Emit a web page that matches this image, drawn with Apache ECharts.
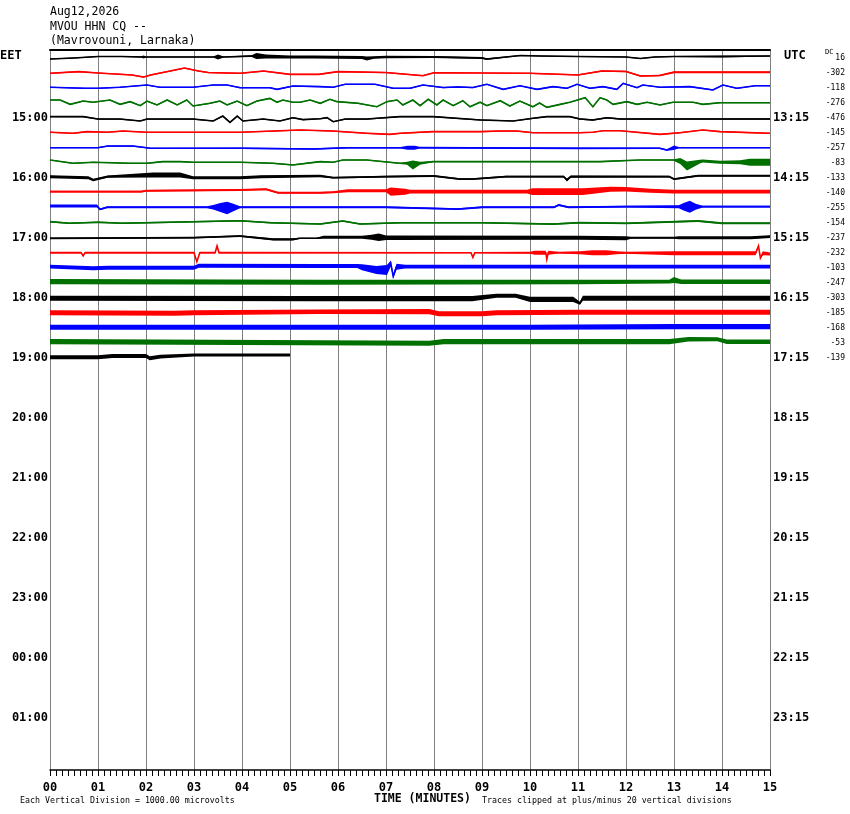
<!DOCTYPE html>
<html style="height: 100%">
<head>
<meta charset="utf-8">
</head>
<body style="height: 100%; margin: 0">
<div id="container" style="width: 850px; height: 814px"></div>
<script type="text/javascript" src="https://cdn.jsdelivr.net/npm/echarts@6/dist/echarts.min.js"></script>
<script type="text/javascript">
// One trace per 15-minute line, named by its EET start time.
// Each knot: [minute, signal in microvolts (up = positive), noise half-width in microvolts]
var r1400 = [[0,-70,30],[0.5,0,30],[1,100,30],[1.5,100,30],[1.9,70,40],[1.95,60,100],[2,70,30],[2.5,70,30],[3.4,70,30],[3.5,70,170],[3.62,70,30],[4.2,130,60],[4.3,130,200],[4.5,100,130],[5,70,100],[5.5,70,100],[6.5,30,100],[6.6,-30,130],[6.75,30,80],[7,70,80],[8,70,70],[9,0,70],[9.1,-70,60],[9.8,170,30],[10.2,130,30],[11,100,30],[12,70,30],[12.3,-30,30],[12.6,70,30],[13,100,40],[14,100,60],[15,130,30]];
var r1415 = [[0,-20,40],[0.6,90,40],[1,0,40],[1.7,-130,40],[1.95,-270,40],[2.1,-130,40],[2.5,130,40],[2.8,330,40],[3.1,130,40],[3.3,30,40],[3.96,-20,40],[4.45,130,40],[5,-90,40],[5.6,-90,40],[6,90,40],[7,30,40],[7.77,-180,40],[8,20,40],[9,0,40],[10,-20,40],[11,-130,40],[11.5,130,50],[12,100,50],[12.3,-200,50],[12.7,-170,50],[13,50,60],[14,50,60],[15,50,60]];
var r1430 = [[0,50,40],[0.73,-20,40],[1,-20,40],[1.46,50,40],[2.02,200,40],[2.29,50,40],[2.98,50,40],[3.4,200,40],[3.69,200,40],[3.96,20,40],[4.58,20,40],[4.73,-90,40],[5.06,130,40],[5.63,90,40],[5.9,50,40],[6.15,250,40],[6.77,250,40],[7.15,-20,40],[7.5,-20,40],[7.77,200,40],[8.19,30,40],[8.5,70,40],[8.81,30,40],[9.1,250,40],[9.44,-90,40],[9.79,150,40],[10.15,-90,40],[10.48,90,40],[10.77,-20,40],[10.98,250,40],[11.25,-20,40],[11.52,90,40],[11.81,-90,40],[11.94,310,40],[12.23,20,40],[12.35,200,40],[12.71,50,40],[13.33,90,40],[13.81,-130,40],[14.02,200,40],[14.31,-20,40],[14.69,150,40],[15,150,40]];
var r1445 = [[0,200,40],[0.21,200,40],[0.42,-90,40],[0.69,130,40],[0.9,50,40],[1.25,200,40],[1.46,-90,40],[1.67,90,40],[1.88,-180,40],[2.02,130,40],[2.23,-130,40],[2.44,200,40],[2.65,-130,40],[2.85,200,40],[2.98,-200,40],[3.33,-20,40],[3.54,130,40],[3.69,-130,40],[3.9,130,40],[4.1,-180,40],[4.31,130,40],[4.58,310,40],[4.73,50,40],[4.85,200,40],[5.06,50,40],[5.21,50,40],[5.42,200,40],[5.63,-20,40],[5.83,250,40],[5.98,90,40],[6.42,-20,40],[6.81,-250,40],[7.02,90,40],[7.23,200,40],[7.35,-130,40],[7.56,200,40],[7.71,-180,40],[7.88,250,40],[8.06,-130,40],[8.19,200,40],[8.4,-180,40],[8.6,150,40],[8.75,-250,40],[8.96,50,40],[9.1,-180,40],[9.38,150,40],[9.58,-200,40],[9.79,130,40],[10.06,-250,40],[10.2,0,40],[10.35,-290,40],[10.63,-90,40],[10.83,50,40],[11.15,350,40],[11.31,-250,40],[11.46,350,40],[11.6,200,40],[11.73,-90,40],[12.02,90,40],[12.23,-90,40],[12.44,50,40],[12.71,-130,40],[12.98,50,40],[13.4,50,40],[13.6,-90,40],[13.96,20,40],[15,20,40]];
var r1500 = [[0,90,40],[0.69,90,40],[1,-70,40],[1.46,-70,40],[1.88,-200,40],[2.02,-70,40],[2.98,-70,40],[3.4,-200,40],[3.6,130,40],[3.75,-290,40],[3.9,130,40],[4.02,-200,40],[4.44,-70,40],[4.79,-200,40],[5.06,20,40],[5.27,-110,40],[5.63,-50,40],[5.77,20,40],[5.9,-250,40],[6.15,-70,40],[6.6,-70,40],[6.81,-20,40],[7.29,90,40],[7.98,90,40],[8.69,-70,40],[8.96,-130,40],[9.65,-200,40],[10.06,-20,40],[10.35,90,40],[10.83,90,40],[11.04,-70,50],[11.31,-130,50],[11.6,20,50],[11.88,-70,50],[12.23,-70,50],[15,-70,50]];
var r1515 = [[0,50,40],[0.48,-20,40],[0.77,90,40],[1.19,50,40],[1.52,130,40],[2.02,50,40],[3.96,50,40],[4.65,130,40],[5.21,200,40],[5.9,130,40],[6.6,-20,40],[7.08,-90,40],[7.29,-20,40],[7.98,90,40],[8.96,90,40],[9.38,130,40],[9.73,130,40],[10.06,20,40],[11.04,20,40],[11.31,50,40],[11.52,150,40],[11.88,150,40],[12.71,-90,40],[13.13,20,40],[13.6,200,40],[13.96,90,40],[15,-20,40]];
var r1530 = [[0,20,40],[1,20,40],[1.2,130,40],[1.73,130,40],[2.1,-20,40],[4,-20,50],[5.5,-70,50],[5.9,-20,50],[6.2,20,50],[7.3,20,50],[7.45,20,130],[7.6,20,130],[7.7,20,60],[11,-20,60],[12.7,-20,50],[12.85,-130,50],[13,20,150],[13.1,20,40],[15,20,40]];
var r1545 = [[0,200,40],[0.48,-20,40],[0.9,50,40],[1.67,-20,40],[2.02,-20,40],[2.35,90,40],[2.71,90,40],[2.98,50,40],[3.96,50,40],[4.65,-20,40],[5.06,-130,40],[5.63,90,40],[5.9,50,40],[6.1,200,40],[6.6,200,40],[7.29,-20,40],[7.44,-20,100],[7.56,-130,300],[7.71,-20,100],[7.98,90,40],[8.96,90,40],[11.46,90,40],[12.29,200,40],[12.98,200,40],[13.13,130,200],[13.27,-200,300],[13.54,90,130],[13.6,130,100],[13.96,50,100],[14.38,50,130],[14.58,50,230],[15,50,230]];
var r1600 = [[0,90,100],[0.8,20,100],[0.9,-130,80],[1.2,90,70],[2.15,200,170],[2.71,200,170],[2.98,20,100],[3.96,20,100],[4.4,90,100],[5.63,130,80],[5.9,20,60],[7,90,60],[8,130,70],[8.54,-70,60],[8.8,-70,60],[9.5,90,60],[10.7,90,60],[10.77,-130,100],[10.85,90,70],[12.9,90,60],[13,-70,60],[13.5,150,60],[15,150,60]];
var r1615 = [[0,90,60],[1.9,90,60],[2,150,70],[3.96,200,70],[4.5,250,70],[4.75,20,70],[5.63,20,70],[5.9,50,60],[6.2,150,100],[7,150,100],[7.1,90,270],[7.4,90,200],[7.5,90,130],[9.94,90,130],[10.05,90,230],[11.1,90,230],[11.67,250,170],[12,250,150],[12.5,150,130],[13,90,130],[15,90,130]];
var r1630 = [[0,130,100],[0.98,130,100],[1.04,-90,60],[1.19,50,60],[3.27,50,60],[3.4,50,150],[3.55,30,300],[3.69,0,420],[3.82,30,250],[3.96,50,70],[7,50,60],[8.5,-70,60],[9,50,60],[10.5,50,60],[10.6,200,70],[10.8,50,60],[12,90,60],[13.1,90,100],[13.2,90,250],[13.33,90,400],[13.45,90,200],[13.6,90,60],[15,90,60]];
var r1645 = [[0,90,50],[0.4,-20,50],[1,50,50],[1.5,-20,50],[2.5,50,50],[3.96,150,50],[4.6,20,50],[5.63,-70,50],[5.9,50,50],[6.1,130,50],[6.46,-70,50],[7.3,20,50],[9,20,50],[10.48,-70,60],[11.04,20,60],[12,-20,60],[13.5,130,70],[14,-20,70],[15,-20,70]];
var r1700 = [[0,-20,60],[2.98,20,60],[3.96,130,60],[4.65,-90,70],[5.06,-90,70],[5.2,-20,40],[5.55,-20,40],[5.7,50,100],[6.5,50,100],[6.7,50,170],[6.85,50,250],[7,20,150],[11,20,130],[12,-20,130],[12.1,20,70],[13,20,70],[13.1,20,100],[14.6,20,100],[15,90,90]];
var r1715 = [[0,20,60],[0.65,20,60],[0.69,-200,40],[0.73,20,60],[3,20,60],[3.06,-580,40],[3.12,20,60],[3.44,20,60],[3.48,470,40],[3.52,20,60],[8.77,20,40],[8.81,-290,40],[8.85,20,40],[10,20,70],[10.1,20,130],[10.33,20,130],[10.35,-420,60],[10.38,20,130],[10.6,20,60],[11.04,20,100],[11.3,20,170],[11.6,20,170],[11.8,20,100],[12,20,70],[13,-20,130],[14.7,-20,130],[14.76,470,70],[14.8,-330,70],[14.85,-20,130],[15,-70,100]];
var r1730 = [[0,90,130],[0.9,-20,130],[1.2,20,130],[3,20,130],[3.1,150,130],[5.63,130,130],[6.4,130,130],[6.5,50,200],[6.8,-130,270],[7.02,-130,330],[7.1,300,200],[7.15,-550,150],[7.22,90,200],[7.4,90,130],[11,90,130],[15,90,130]];
var r1745 = [[0,90,170],[5.63,50,170],[11,70,150],[12.9,90,130],[13,200,200],[13.15,90,150],[15,90,150]];
var r1800 = [[0,-20,170],[5.5,-40,170],[8.8,-40,170],[9.3,150,130],[9.7,150,130],[10,-90,170],[10.9,-90,170],[11.04,-350,100],[11.1,-20,170],[15,-20,170]];
var r1815 = [[0,20,170],[2.6,-20,170],[3,20,170],[5.6,90,150],[7.9,90,170],[8.1,-50,170],[9,-50,170],[9.3,20,170],[11,50,170],[15,50,170]];
var r1830 = [[0,50,170],[5,50,170],[10,50,170],[13,90,170],[15,90,170]];
var r1845 = [[0,90,170],[7.9,-20,170],[8.2,90,170],[12.9,90,170],[13.3,250,150],[13.9,250,130],[14.1,90,150],[15,90,150]];
var r1900 = [[0,50,130],[1,50,130],[1.3,130,130],[2,130,130],[2.08,-20,130],[2.3,90,130],[3,200,100],[5,200,100]];

var traces = [r1400, r1415, r1430, r1445, r1500, r1515, r1530, r1545, r1600, r1615, r1630,
              r1645, r1700, r1715, r1730, r1745, r1800, r1815, r1830, r1845, r1900];

// DC offset printed at the right of each line
var dcOffsets = [16, -302, -118, -276, -476, -145, -257, -83, -133, -140, -255,
                 -154, -237, -232, -103, -247, -303, -185, -168, -53, -139];

var minuteLabels = ['00','01','02','03','04','05','06','07','08','09','10','11','12','13','14','15'];
var hourRows = [4, 8, 12, 16, 20, 24, 28, 32, 36, 40, 44];
var eetLabels = ['15:00','16:00','17:00','18:00','19:00','20:00','21:00','22:00','23:00','00:00','01:00'];
var utcLabels = ['13:15','14:15','15:15','16:15','17:15','18:15','19:15','20:15','21:15','22:15','23:15'];
var lineRows = [0,1,2,3,4,5,6,7,8,9,10,11,12,13,14,15,16,17,18,19,20];

var traceColors = ['#000000', '#ff0000', '#0000ff', '#007000'];
var mono = 'DejaVu Sans Mono';

var dom = document.getElementById('container');
var myChart = echarts.init(dom);

// one division = one line = 1000 microvolts; top edge is 8px above line 0
var yMin = -8 / 15;
var yMax = 712 / 15;

var option = {
    backgroundColor: '#ffffff',
    animation: false,
    title: {
        text: 'Aug12,2026\nMVOU HHN CQ --\n(Mavrovouni, Larnaka)',
        left: 50,
        top: 5,
        padding: 0,
        textStyle: {
            fontFamily: mono,
            fontSize: 11.5,
            fontWeight: 'normal',
            color: '#000',
            lineHeight: 14.5
        }
    },
    grid: {
        left: 50,
        right: 80,
        top: 50,
        bottom: 44,
        outerBoundsMode: 'none'
    },
    xAxis: [
        {
            type: 'value',
            position: 'bottom',
            min: 0,
            max: 15,
            interval: 1,
            axisLine: {onZero: false, lineStyle: {color: '#000', width: 1.5}},
            axisTick: {length: 6, lineStyle: {color: '#000'}},
            minorTick: {show: true, splitNumber: 8, length: 6, lineStyle: {color: '#000'}},
            axisLabel: {
                margin: 12,
                color: '#000',
                fontFamily: mono,
                fontWeight: 'bold',
                fontSize: 12,
                formatter: function (v) { return minuteLabels[v]; }
            },
            splitLine: {show: true, lineStyle: {color: '#808080', width: 1}}
        },
        {
            type: 'value',
            position: 'top',
            min: 0,
            max: 15,
            axisLine: {show: true, onZero: false, lineStyle: {color: '#000', width: 2}},
            axisTick: {show: false},
            axisLabel: {show: false},
            splitLine: {show: false}
        }
    ],
    yAxis: [
        {
            type: 'value',
            inverse: true,
            position: 'left',
            min: yMin,
            max: yMax,
            axisLine: {show: true, onZero: false, lineStyle: {color: '#808080'}},
            axisTick: {show: false},
            splitLine: {show: false},
            axisLabel: {
                customValues: hourRows,
                margin: 2,
                color: '#000',
                fontFamily: mono,
                fontWeight: 'bold',
                fontSize: 12,
                formatter: function (v) { return eetLabels[hourRows.indexOf(v)]; }
            }
        },
        {
            type: 'value',
            inverse: true,
            position: 'right',
            min: yMin,
            max: yMax,
            axisLine: {show: true, onZero: false, lineStyle: {color: '#808080'}},
            axisTick: {show: false},
            splitLine: {show: false},
            axisLabel: {
                customValues: hourRows,
                margin: 3,
                color: '#000',
                fontFamily: mono,
                fontWeight: 'bold',
                fontSize: 12,
                formatter: function (v) { return utcLabels[hourRows.indexOf(v)]; }
            }
        },
        {
            type: 'value',
            inverse: true,
            position: 'right',
            min: yMin,
            max: yMax,
            axisLine: {show: false, onZero: false},
            axisTick: {show: false},
            splitLine: {show: false},
            axisLabel: {
                customValues: lineRows,
                margin: 75,
                align: 'right',
                color: '#000',
                fontFamily: mono,
                fontSize: 8,
                formatter: function (v) { return String(dcOffsets[v]); }
            }
        }
    ],
    graphic: [
        {type: 'text', left: 0, top: 50, style: {text: 'EET', fontFamily: mono, fontWeight: 'bold', fontSize: 12, fill: '#000'}},
        {type: 'text', left: 784, top: 50, style: {text: 'UTC', fontFamily: mono, fontWeight: 'bold', fontSize: 12, fill: '#000'}},
        {type: 'text', left: 825, top: 49, style: {text: 'DC', fontFamily: mono, fontSize: 7, fill: '#000'}},
        {type: 'text', left: 20, top: 797, style: {text: 'Each Vertical Division = 1000.00 microvolts', fontFamily: mono, fontSize: 8.3, fill: '#000'}},
        {type: 'text', left: 374, top: 793, style: {text: 'TIME (MINUTES)', fontFamily: mono, fontWeight: 'bold', fontSize: 11.5, fill: '#000'}},
        {type: 'text', left: 482, top: 797, style: {text: 'Traces clipped at plus/minus 20 vertical divisions', fontFamily: mono, fontSize: 8.3, fill: '#000'}}
    ],
    series: [
        {
            type: 'custom',
            coordinateSystem: 'cartesian2d',
            silent: true,
            data: traces.map(function (tr, i) { return [0, i]; }),
            encode: {x: 0, y: 1},
            renderItem: function (params, api) {
                var row = params.dataIndex;
                var knots = traces[row];
                var color = traceColors[row % 4];
                var mid = [], upper = [], lower = [];
                knots.forEach(function (k) {
                    mid.push(api.coord([k[0], row - k[1] / 1000]));
                    upper.push(api.coord([k[0], row - (k[1] + k[2]) / 1000]));
                    lower.push(api.coord([k[0], row - (k[1] - k[2]) / 1000]));
                });
                return {
                    type: 'group',
                    children: [
                        {type: 'polygon', shape: {points: upper.concat(lower.reverse())}, style: {fill: color}},
                        {type: 'polyline', shape: {points: mid}, style: {stroke: color, lineWidth: 1.6, fill: null}}
                    ]
                };
            }
        }
    ]
};

myChart.setOption(option);
</script>
</body>
</html>
